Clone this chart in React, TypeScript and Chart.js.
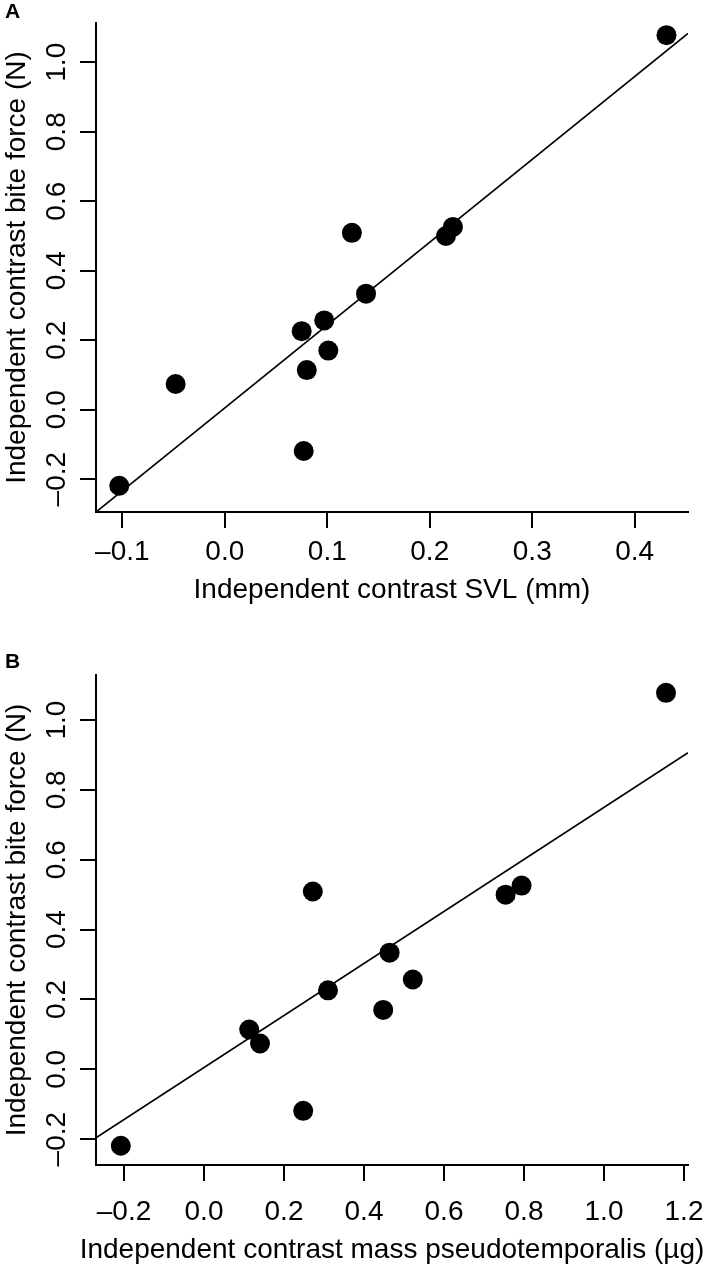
import React, { useEffect, useRef } from "react";
import { Chart, registerables } from "chart.js";

Chart.register(...registerables);

const FONT = "'Liberation Sans', Arial, Helvetica, sans-serif";
const FONT_SIZE = 28;

// Bite-force contrasts (shared y values of both panels)
const biteContrast = [1.078, 0.526, 0.5, 0.509, 0.334, 0.257, 0.226, 0.17, 0.114, 0.074, -0.119, -0.219];
// Panel A: SVL contrasts
const svlContrast = [0.431, 0.2226, 0.2158, 0.124, 0.1378, 0.097, 0.075, 0.101, 0.08, -0.048, 0.077, -0.103];
// Panel B: pseudotemporalis mass contrasts
const massContrast = [1.155, 0.794, 0.754, 0.272, 0.464, 0.522, 0.31, 0.448, 0.113, 0.14, 0.248, -0.208];

const xTicksA = [-0.1, 0.0, 0.1, 0.2, 0.3, 0.4];
const xTicksB = [-0.2, 0.0, 0.2, 0.4, 0.6, 0.8, 1.0, 1.2];
const yTicks = [-0.2, 0.0, 0.2, 0.4, 0.6, 0.8, 1.0];

const fitA = { slope: 2.385, intercept: 0.005 };
const fitB = { slope: 0.745, intercept: 0.005 };

const rangeA = { xMin: -0.1257, xMax: 0.452, yMin: -0.2945, yMax: 1.113 };
const rangeB = { xMin: -0.27, xMax: 1.21, yMin: -0.274, yMax: 1.129 };

const yTitle = "Independent contrast bite force (N)";
const xTitleA = "Independent contrast SVL (mm)";
const xTitleB = "Independent contrast mass pseudotemporalis (\u00b5g)";

function fmt(v: number): string {
  const r = Math.round(v * 10) / 10;
  const s = Math.abs(r).toFixed(1);
  return r < 0 ? "\u2013" + s : s;
}

// Draws the x-axis title centred under the plot area without width squeezing
const xTitlePlugin = {
  id: "xTitleFree",
  afterDraw(chart: any, _args: any, opts: any) {
    const { ctx, chartArea } = chart;
    ctx.save();
    ctx.font = `${FONT_SIZE}px ${FONT}`;
    ctx.fillStyle = "#000";
    ctx.textAlign = "center";
    ctx.textBaseline = "middle";
    ctx.fillText(opts.text, (chartArea.left + chartArea.right) / 2, chartArea.bottom + opts.offset);
    ctx.restore();
  },
};

type PanelProps = {
  xs: number[];
  ys: number[];
  xTicks: number[];
  fit: { slope: number; intercept: number };
  range: { xMin: number; xMax: number; yMin: number; yMax: number };
  xTitle: string;
  top: number;
  height: number;
  padTop: number;
  xScaleHeight: number;
  xTickPad: number;
  xTitleOffset: number;
};

function Panel(p: PanelProps) {
  const ref = useRef<HTMLCanvasElement | null>(null);
  useEffect(() => {
    if (!ref.current) return;
    const points = p.xs.map((x, i) => ({ x, y: p.ys[i] }));
    const lineEnds = [p.range.xMin, p.range.xMax].map((x) => ({
      x,
      y: p.fit.slope * x + p.fit.intercept,
    }));
    const font = { family: FONT, size: FONT_SIZE };
    const grid = {
      display: true,
      drawOnChartArea: false,
      drawTicks: true,
      tickLength: 16,
      color: "#000",
      lineWidth: 2,
    };
    const border = { display: true, color: "#000", width: 2 };
    const chart = new Chart(ref.current, {
      type: "scatter",
      data: {
        datasets: [
          {
            data: points,
            pointRadius: 10,
            pointHoverRadius: 10,
            pointBackgroundColor: "#000",
            pointBorderWidth: 0,
            showLine: false,
          },
          {
            data: lineEnds,
            showLine: true,
            borderColor: "#000",
            borderWidth: 1.6,
            pointRadius: 0,
            pointHoverRadius: 0,
            fill: false,
            tension: 0,
          },
        ],
      },
      plugins: [xTitlePlugin],
      options: {
        responsive: false,
        animation: false,
        devicePixelRatio: 1,
        events: [],
        layout: { padding: { top: p.padTop, right: 21, left: 0, bottom: 0 } },
        plugins: {
          legend: { display: false },
          tooltip: { enabled: false },
          xTitleFree: { text: p.xTitle, offset: p.xTitleOffset },
        },
        scales: {
          x: {
            type: "linear",
            min: p.range.xMin,
            max: p.range.xMax,
            afterBuildTicks: (s: any) => {
              s.ticks = p.xTicks.map((v) => ({ value: v }));
            },
            afterFit: (s: any) => {
              s.height = p.xScaleHeight;
              s.paddingLeft = 0;
              s.paddingRight = 0;
            },
            ticks: {
              font,
              color: "#000",
              padding: p.xTickPad,
              autoSkip: false,
              minRotation: 0,
              maxRotation: 0,
              callback: (v: any) => fmt(Number(v)),
            },
            grid,
            border,
            title: { display: false },
          },
          y: {
            type: "linear",
            min: p.range.yMin,
            max: p.range.yMax,
            afterBuildTicks: (s: any) => {
              s.ticks = yTicks.map((v) => ({ value: v }));
            },
            afterFit: (s: any) => {
              s.width = 96;
              s.paddingTop = 0;
              s.paddingBottom = 0;
            },
            ticks: {
              font,
              color: "#000",
              padding: -5,
              autoSkip: false,
              minRotation: 90,
              maxRotation: 90,
              crossAlign: "center",
              callback: (v: any) => fmt(Number(v)),
            },
            grid,
            border,
            title: {
              display: true,
              text: yTitle,
              font,
              color: "#000",
              padding: { top: 0, bottom: 0 },
            },
          },
        },
      },
    } as any);
    return () => chart.destroy();
  }, []);
  return (
    <canvas
      ref={ref}
      width={709}
      height={p.height}
      style={{ position: "absolute", left: 0, top: p.top, width: 709, height: p.height, display: "block" }}
    />
  );
}

const labelStyle: React.CSSProperties = {
  position: "absolute",
  left: 5,
  fontFamily: FONT,
  fontWeight: "bold",
  fontSize: 21,
  lineHeight: "21px",
  color: "#000",
};

export default function App() {
  return (
    <div style={{ position: "absolute", left: 0, top: 0, width: 709, height: 1267, background: "#fff", overflow: "hidden" }}>
      <Panel
        xs={svlContrast}
        ys={biteContrast}
        xTicks={xTicksA}
        fit={fitA}
        range={rangeA}
        xTitle={xTitleA}
        top={0}
        height={640}
        padTop={23}
        xScaleHeight={128}
        xTickPad={7}
        xTitleOffset={78}
      />
      <Panel
        xs={massContrast}
        ys={biteContrast}
        xTicks={xTicksB}
        fit={fitB}
        range={rangeB}
        xTitle={xTitleB}
        top={640}
        height={627}
        padTop={35}
        xScaleHeight={102}
        xTickPad={14}
        xTitleOffset={85}
      />
      <div style={{ ...labelStyle, top: 0 }}>A</div>
      <div style={{ ...labelStyle, top: 650 }}>B</div>
    </div>
  );
}
